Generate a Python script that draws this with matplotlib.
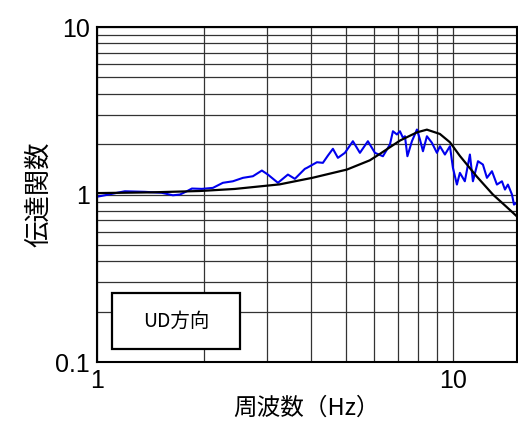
import matplotlib
matplotlib.use('Agg')
import matplotlib.pyplot as plt
import matplotlib.ticker as ticker
import matplotlib.patches as patches
import numpy as np

plt.rcParams['font.family'] = ['Noto Sans CJK JP', 'DejaVu Sans']

# 観測の伝達関数 (青)
obs_f = [1.0, 1.053, 1.198, 1.364, 1.522, 1.635, 1.711, 1.789, 1.849, 1.972,
         2.118, 2.259, 2.410, 2.572, 2.743, 2.907, 3.022, 3.225, 3.440, 3.598,
         3.839, 3.89, 4.150, 4.313, 4.456, 4.602, 4.753, 4.973, 5.237, 5.480,
         5.770, 6.038, 6.359, 6.653, 6.784, 6.962, 7.099, 7.238, 7.332, 7.45,
         7.67, 7.924, 8.080, 8.238, 8.451, 8.730, 9.016, 9.194, 9.495, 9.808,
         10.0, 10.26, 10.46, 10.80, 11.16, 11.38, 11.76, 12.14, 12.46, 12.87,
         13.29, 13.73, 14.0, 14.27, 14.65, 14.84, 15.13]
obs_h = [0.97, 0.99, 1.046, 1.038, 1.024, 0.99, 1.0, 1.046, 1.086, 1.081,
         1.096, 1.175, 1.2, 1.258, 1.286, 1.391, 1.316, 1.175, 1.316, 1.241,
         1.424, 1.443, 1.559, 1.546, 1.709, 1.875, 1.656, 1.774, 2.081, 1.774,
         2.081, 1.774, 1.693, 1.988, 2.387, 2.283, 2.387, 2.181, 2.228, 1.693,
         2.081, 2.444, 2.130, 1.813, 2.228, 2.036, 1.774, 1.943, 1.733, 1.943,
         1.443, 1.147, 1.347, 1.2, 1.733, 1.2, 1.581, 1.51, 1.258, 1.378,
         1.147, 1.2, 1.071, 1.147, 1.0, 0.871, 0.896]

# 理論の伝達関数 (黒)
th_f = [1.0, 1.41, 1.95, 2.44, 3.26, 4.04, 5.04, 5.84, 6.24, 7.1,
        7.92, 8.45, 9.19, 9.81, 10.46, 11.67, 12.95, 14.18, 15.13]
th_h = [1.02, 1.03, 1.05, 1.08, 1.15, 1.26, 1.41, 1.6, 1.75, 2.1,
        2.35, 2.44, 2.3, 2.05, 1.7, 1.28, 1.0, 0.84, 0.74]

fig = plt.figure(figsize=(5.18, 4.22), dpi=100)
ax = fig.add_axes([0.187, 0.142, 0.811, 0.794])

ax.plot(obs_f, obs_h, color='#0000ee', lw=1.5)
ax.plot(th_f, th_h, color='black', lw=1.6)

ax.set_xscale('log')
ax.set_yscale('log')
ax.set_xlim(1, 15.13)
ax.set_ylim(0.1, 10)

ax.xaxis.set_major_locator(ticker.FixedLocator([1, 10]))
ax.xaxis.set_major_formatter(ticker.FixedFormatter(['1', '10']))
ax.xaxis.set_minor_locator(ticker.LogLocator(base=10, subs=np.arange(2, 10)))
ax.xaxis.set_minor_formatter(ticker.NullFormatter())
ax.yaxis.set_major_locator(ticker.FixedLocator([0.1, 1, 10]))
ax.yaxis.set_major_formatter(ticker.FixedFormatter(['0.1', '1', '10']))
ax.yaxis.set_minor_locator(ticker.LogLocator(base=10, subs=np.arange(2, 10)))
ax.yaxis.set_minor_formatter(ticker.NullFormatter())

ax.grid(True, which='both', color='#333333', lw=0.9)
ax.tick_params(which='both', length=0, labelsize=18, pad=5)
for lab in ax.get_xticklabels() + ax.get_yticklabels():
    lab.set_family(['Liberation Sans', 'DejaVu Sans'])
for s in ax.spines.values():
    s.set_linewidth(1.5)

ax.set_xlabel('周波数（Hz）', fontsize=17, labelpad=3)
ax.set_ylabel('伝達関数', fontsize=19, labelpad=2)

# 凡例の枠
ax.add_patch(patches.Rectangle((0.036, 0.039), 0.304, 0.167, transform=ax.transAxes,
                               fc='white', ec='black', lw=1.6, zorder=5))
ax.text(0.188, 0.122, 'UD方向', transform=ax.transAxes, fontsize=14,
        ha='center', va='center', zorder=6)

fig.savefig('out.png', dpi=100)
